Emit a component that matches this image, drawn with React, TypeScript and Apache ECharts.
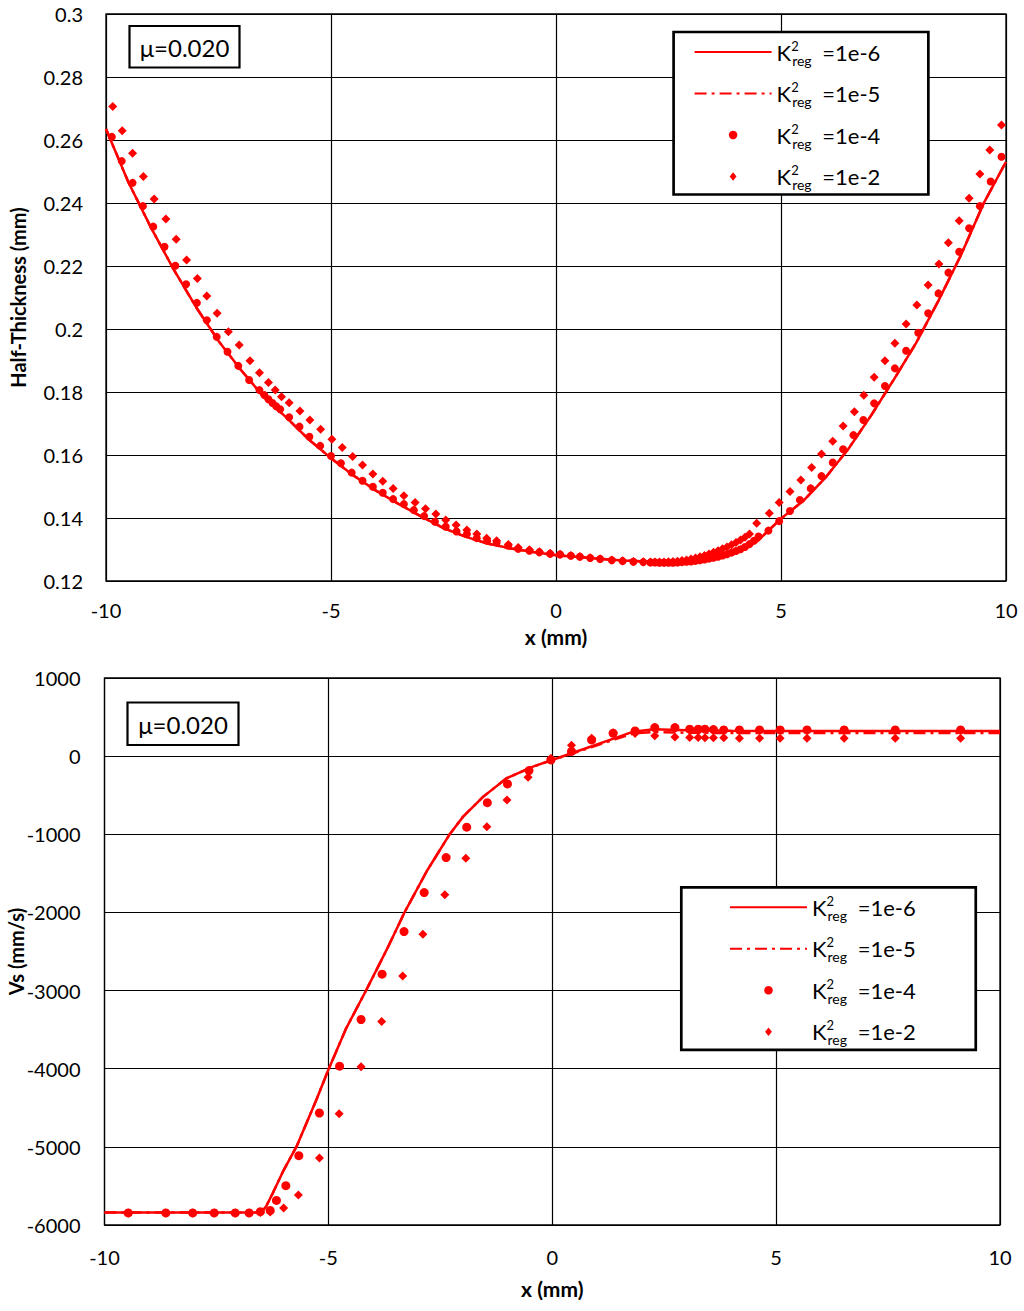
import React, { useEffect, useRef } from 'react';
import * as echarts from 'echarts';

// ---------- DATA ----------
const legendNames = ['1e-6', '1e-5', '1e-4', '1e-2'];
const muLabel = 'μ=0.020';

// Top chart: Half-Thickness (mm) vs x (mm)
const thkLine6: number[][] = [
  [-10, 0.2635], [-9.5, 0.2465], [-9, 0.2322], [-8.5, 0.219], [-8, 0.207], [-7.5, 0.1962],
  [-7, 0.187], [-6.5, 0.1785], [-6, 0.172], [-5.5, 0.165], [-5, 0.159], [-4.5, 0.1535],
  [-4, 0.1487], [-3.5, 0.1445], [-3, 0.1405], [-2.5, 0.1368], [-2, 0.134], [-1.5, 0.1318],
  [-1, 0.1303], [-0.5, 0.1292], [0, 0.1282], [0.5, 0.1276], [1, 0.127], [1.5, 0.1265],
  [2, 0.1262], [2.5, 0.126], [3, 0.1262], [3.5, 0.127], [4, 0.1288], [4.5, 0.133],
  [5, 0.1398], [5.5, 0.1455], [6, 0.153], [6.5, 0.162], [7, 0.1725], [7.5, 0.1838],
  [8, 0.1955], [8.5, 0.209], [9, 0.2235], [9.5, 0.2398], [10, 0.2531],
];
const thkLine5: number[][] = [
  [-10, 0.2635], [-9.5, 0.2465], [-9, 0.2322], [-8.5, 0.219], [-8, 0.207], [-7.5, 0.1962],
  [-7, 0.187], [-6.5, 0.1785], [-6, 0.172], [-5.5, 0.165], [-5, 0.159], [-4.5, 0.1535],
  [-4, 0.1487], [-3.5, 0.1445], [-3, 0.1405], [-2.5, 0.1368], [-2, 0.134], [-1.5, 0.1318],
  [-1, 0.1303], [-0.5, 0.1292], [0, 0.1282], [0.5, 0.1276], [1, 0.127], [1.5, 0.1265],
  [2, 0.1262], [2.5, 0.126], [3, 0.1262], [3.5, 0.127], [4, 0.1288], [4.5, 0.133],
  [5, 0.1398], [5.5, 0.1455], [6, 0.153], [6.5, 0.162], [7, 0.1725], [7.5, 0.1838],
  [8, 0.1955], [8.5, 0.209], [9, 0.2235], [9.5, 0.2398], [10, 0.2531],
];
const thkDots4: number[][] = [
  [-9.87, 0.261], [-9.65, 0.2533], [-9.41, 0.2464], [-9.18, 0.239], [-8.95, 0.2325], [-8.7, 0.2261],
  [-8.46, 0.2201], [-8.22, 0.2142], [-7.98, 0.2083], [-7.76, 0.2028], [-7.54, 0.1975], [-7.3, 0.1928],
  [-7.06, 0.1883], [-6.82, 0.1838], [-6.59, 0.1806], [-6.48, 0.179], [-6.39, 0.1777], [-6.3, 0.1765],
  [-6.22, 0.1755], [-6.13, 0.1745], [-5.93, 0.172], [-5.7, 0.169], [-5.48, 0.1658], [-5.24, 0.1629],
  [-5.0, 0.1597], [-4.78, 0.1574], [-4.54, 0.1544], [-4.3, 0.1518], [-4.07, 0.1499], [-3.85, 0.148],
  [-3.62, 0.146], [-3.38, 0.1444], [-3.16, 0.1425], [-2.93, 0.1406], [-2.69, 0.1388], [-2.45, 0.1372],
  [-2.21, 0.1357], [-1.98, 0.1349], [-1.76, 0.1336], [-1.53, 0.1328], [-1.32, 0.1322], [-1.06, 0.1312],
  [-0.84, 0.1302], [-0.59, 0.1296], [-0.37, 0.1291], [-0.13, 0.1286], [0.09, 0.1284], [0.33, 0.128],
  [0.53, 0.1277], [0.76, 0.1273], [0.98, 0.127], [1.24, 0.1266], [1.48, 0.1263], [1.72, 0.1261],
  [1.94, 0.126], [2.1, 0.1259], [2.2, 0.1259], [2.3, 0.1258], [2.4, 0.1258], [2.5, 0.1258],
  [2.6, 0.1258], [2.7, 0.1259], [2.8, 0.126], [2.9, 0.1261], [3.0, 0.1262], [3.1, 0.1264],
  [3.2, 0.1266], [3.3, 0.1268], [3.4, 0.1271], [3.5, 0.1274], [3.6, 0.1277], [3.7, 0.1281],
  [3.8, 0.1285], [3.9, 0.129], [4.0, 0.1295], [4.1, 0.1301], [4.2, 0.1308], [4.3, 0.1317],
  [4.4, 0.1328], [4.5, 0.1341], [4.72, 0.136], [4.96, 0.139], [5.2, 0.1422], [5.42, 0.1457],
  [5.66, 0.1494], [5.9, 0.1533], [6.15, 0.1576], [6.38, 0.1618], [6.61, 0.1663], [6.83, 0.1711],
  [7.07, 0.1764], [7.31, 0.1819], [7.53, 0.1875], [7.78, 0.1931], [8.05, 0.1988], [8.27, 0.205],
  [8.5, 0.2113], [8.72, 0.2179], [8.96, 0.2245], [9.18, 0.232], [9.42, 0.239], [9.66, 0.2468],
  [9.9, 0.2547],
];
const thkDiam2: number[][] = [
  [-9.85, 0.2706], [-9.64, 0.2629], [-9.41, 0.2558], [-9.17, 0.2484], [-8.93, 0.2413], [-8.67, 0.2349],
  [-8.44, 0.2285], [-8.21, 0.2219], [-7.97, 0.216], [-7.76, 0.2105], [-7.53, 0.205], [-7.28, 0.1991],
  [-7.04, 0.1949], [-6.8, 0.1899], [-6.59, 0.1861], [-6.39, 0.183], [-6.24, 0.1806], [-6.1, 0.1785],
  [-5.93, 0.1766], [-5.69, 0.174], [-5.47, 0.1711], [-5.23, 0.1682], [-4.98, 0.165], [-4.75, 0.1624],
  [-4.52, 0.1595], [-4.3, 0.1568], [-4.07, 0.154], [-3.85, 0.1517], [-3.62, 0.1494], [-3.38, 0.1471],
  [-3.13, 0.1449], [-2.9, 0.1429], [-2.67, 0.1413], [-2.45, 0.1394], [-2.22, 0.1378], [-1.98, 0.1362],
  [-1.76, 0.1349], [-1.54, 0.1336], [-1.32, 0.1328], [-1.06, 0.1316], [-0.84, 0.1306], [-0.59, 0.1299],
  [-0.37, 0.1293], [-0.13, 0.1288], [0.09, 0.1285], [0.33, 0.1281], [0.53, 0.1278], [0.76, 0.1274],
  [0.98, 0.1271], [1.24, 0.1267], [1.48, 0.1264], [1.72, 0.1262], [1.94, 0.1261], [2.1, 0.126],
  [2.2, 0.126], [2.3, 0.126], [2.4, 0.126], [2.5, 0.1261], [2.6, 0.1262], [2.7, 0.1263],
  [2.8, 0.1265], [2.9, 0.1267], [3.0, 0.127], [3.1, 0.1273], [3.2, 0.1277], [3.3, 0.1281],
  [3.4, 0.1286], [3.5, 0.1291], [3.6, 0.1296], [3.7, 0.1302], [3.8, 0.1308], [3.9, 0.1315],
  [4.0, 0.1322], [4.1, 0.133], [4.2, 0.1339], [4.3, 0.1349], [4.46, 0.1383], [4.74, 0.1415],
  [4.96, 0.1449], [5.2, 0.1484], [5.44, 0.1521], [5.68, 0.156], [5.9, 0.1603], [6.15, 0.1644],
  [6.38, 0.1692], [6.63, 0.1737], [6.84, 0.179], [7.07, 0.1847], [7.31, 0.1899], [7.53, 0.1955],
  [7.78, 0.2016], [8.02, 0.2076], [8.27, 0.214], [8.51, 0.2206], [8.72, 0.2274], [8.96, 0.2344],
  [9.18, 0.2415], [9.42, 0.2492], [9.64, 0.2568], [9.9, 0.2648],
];

// Bottom chart: Vs (mm/s) vs x (mm)
const vsLine6: number[][] = [
  [-10, -5840], [-9, -5840], [-8, -5840], [-7, -5840], [-6.5, -5840], [-6.39, -5762],
  [-6.24, -5590], [-6.0, -5300], [-5.71, -4994], [-5.27, -4400], [-5.0, -4013], [-4.6, -3480],
  [-4.15, -2990], [-3.7, -2480], [-3.29, -1989], [-2.8, -1470], [-2.29, -999], [-1.99, -774],
  [-1.54, -518], [-1.02, -283], [-0.43, -134], [0, -49], [0.43, 37], [0.9, 130],
  [1.4, 230], [1.81, 313], [2.26, 344], [3, 330], [4, 325], [5, 322], [7, 322], [10, 322],
];
const vsLine5: number[][] = [
  [-10, -5840], [-9, -5840], [-8, -5840], [-7, -5840], [-6.5, -5840], [-6.39, -5762],
  [-6.24, -5590], [-6.0, -5300], [-5.71, -4994], [-5.27, -4400], [-5.0, -4013], [-4.6, -3480],
  [-4.15, -2990], [-3.7, -2480], [-3.29, -1989], [-2.8, -1470], [-2.29, -999], [-1.99, -774],
  [-1.54, -518], [-1.02, -283], [-0.43, -134], [0, -49], [0.43, 30], [0.9, 120],
  [1.4, 215], [1.81, 290], [2.26, 310], [3, 300], [4, 296], [5, 295], [7, 295], [10, 295],
];
const vsDots4: number[][] = [
  [-9.47, -5846], [-8.63, -5846], [-8.03, -5846], [-7.55, -5846], [-7.08, -5846], [-6.77, -5846],
  [-6.52, -5830], [-6.3, -5813], [-6.16, -5685], [-5.95, -5497], [-5.66, -5113], [-5.2, -4567],
  [-4.75, -3967], [-4.27, -3370], [-3.8, -2790], [-3.31, -2245], [-2.86, -1746], [-2.37, -1298],
  [-1.91, -909], [-1.45, -595], [-1.0, -356], [-0.52, -185], [-0.03, -49], [0.43, 60],
  [0.88, 207], [1.36, 293], [1.85, 322], [2.29, 365], [2.74, 365], [3.07, 345],
  [3.26, 345], [3.41, 345], [3.6, 340], [3.83, 335], [4.18, 335], [4.63, 335],
  [5.09, 335], [5.69, 335], [6.52, 335], [7.66, 335], [9.12, 335],
];
const vsDiam2: number[][] = [
  [-9.47, -5846], [-8.63, -5846], [-8.03, -5846], [-7.55, -5846], [-7.08, -5846], [-6.77, -5846],
  [-6.52, -5840], [-6.3, -5835], [-6.0, -5783], [-5.67, -5615], [-5.2, -5143], [-4.76, -4576],
  [-4.27, -3975], [-3.81, -3396], [-3.34, -2815], [-2.89, -2278], [-2.4, -1775], [-1.93, -1306],
  [-1.46, -902], [-1.01, -560], [-0.54, -270], [-0.03, -27], [0.43, 140], [0.88, 229],
  [1.36, 300], [1.85, 290], [2.29, 260], [2.74, 245], [3.07, 240], [3.26, 240],
  [3.41, 235], [3.6, 235], [3.83, 235], [4.18, 230], [4.63, 230], [5.09, 230],
  [5.69, 230], [6.52, 230], [7.66, 230], [9.12, 230],
];

// ---------- STYLE ----------
const RED = '#ff0000';
const FONT = 'Lato';
const DIAMOND_ICON = 'path://M4,0L8,5L4,10L0,5Z';

function lineSeries(name: string, data: number[][], idx: number, dashed: boolean) {
  return {
    type: 'line', name, data, xAxisIndex: idx, yAxisIndex: idx,
    symbol: 'none', showSymbol: false, silent: true, z: 2,
    lineStyle: { color: RED, width: 2.5, type: dashed ? [12, 5, 3, 5] : 'solid' },
    itemStyle: { color: RED },
  };
}
function scatterSeries(name: string, data: number[][], idx: number, symbol: string, size: number) {
  return {
    type: 'scatter', name, data, xAxisIndex: idx, yAxisIndex: idx,
    symbol, symbolSize: size, z: 3, silent: true,
    itemStyle: { color: RED, opacity: 1 },
  };
}

const legendRich = {
  k: { fontSize: 22, lineHeight: 30, verticalAlign: 'middle', fontFamily: FONT, color: '#000' },
  s: { fontSize: 13, lineHeight: 13, width: 1, verticalAlign: 'top', padding: [2, 0, 0, 0], fontFamily: FONT, color: '#000' },
  r: { fontSize: 14, lineHeight: 14, verticalAlign: 'bottom', fontFamily: FONT, color: '#000' },
  t: { fontSize: 22, lineHeight: 30, verticalAlign: 'middle', padding: [0, 0, 0, 5], fontFamily: FONT, color: '#000' },
};

const legendData = [
  { name: legendNames[0], itemStyle: { opacity: 0 } },
  { name: legendNames[1], itemStyle: { opacity: 0 } },
  { name: legendNames[2], icon: 'circle' },
  { name: legendNames[3], icon: DIAMOND_ICON },
];

function makeLegend(left: number, top: number, padding: number[]) {
  return {
    data: legendData, orient: 'vertical', left, top, padding,
    itemWidth: 77, itemHeight: 8.5, itemGap: 11.5, align: 'left',
    borderColor: '#000', borderWidth: 2.7, backgroundColor: '#fff',
    symbolKeepAspect: true, selectedMode: false,
    formatter: (n: string) => `{k|K}{s|2}{r|reg}{t| =${n}}`,
    textStyle: { fontSize: 22, lineHeight: 30, fontFamily: FONT, color: '#000', rich: legendRich },
  };
}

function xAxisOpt(idx: number, margin: number, nameGap: number) {
  return {
    type: 'value', gridIndex: idx, min: -10, max: 10, interval: 5,
    name: 'x (mm)', nameLocation: 'middle', nameGap,
    nameTextStyle: { fontSize: 21, lineHeight: 20, fontWeight: 'bold', color: '#000', fontFamily: FONT },
    axisLine: { show: false, onZero: false }, axisTick: { show: false },
    axisLabel: { fontSize: 20, lineHeight: 18, color: '#000', margin, fontFamily: FONT, formatter: (v: number) => String(v) },
    splitLine: { show: true, lineStyle: { color: '#000', width: 1.2 } },
  };
}

export default function App() {
  const ref = useRef<HTMLDivElement>(null);
  useEffect(() => {
    if (!ref.current) return;
    const chart = echarts.init(ref.current, undefined, { renderer: 'svg' });
    chart.setOption({
      animation: false,
      backgroundColor: '#fff',
      textStyle: { fontFamily: FONT },
      grid: [
        { left: 106, top: 14, width: 900, height: 567, show: true, borderColor: '#000', borderWidth: 1.3, backgroundColor: 'transparent', containLabel: false, outerBoundsMode: 'none' },
        { left: 104.5, top: 678, width: 895.5, height: 547, show: true, borderColor: '#000', borderWidth: 1.3, backgroundColor: 'transparent', containLabel: false, outerBoundsMode: 'none' },
      ],
      xAxis: [xAxisOpt(0, 20, 45), xAxisOpt(1, 23, 53)],
      yAxis: [
        {
          type: 'value', gridIndex: 0, min: 0.12, max: 0.3, interval: 0.02,
          name: 'Half-Thickness (mm)', nameLocation: 'middle', nameGap: 78, nameRotate: 90, nameMoveOverlap: false,
          nameTextStyle: { fontSize: 20, fontWeight: 'bold', color: '#000', fontFamily: FONT },
          axisLine: { show: false, onZero: false }, axisTick: { show: false },
          axisLabel: { fontSize: 20, color: '#000', margin: 23, fontFamily: FONT, formatter: (v: number) => String(Number(v.toFixed(2))) },
          splitLine: { show: true, lineStyle: { color: '#000', width: 1.2 } },
        },
        {
          type: 'value', gridIndex: 1, min: -6000, max: 1000, interval: 1000,
          name: 'Vs (mm/s)', nameLocation: 'middle', nameGap: 79, nameRotate: 90, nameMoveOverlap: false,
          nameTextStyle: { fontSize: 20, fontWeight: 'bold', color: '#000', fontFamily: FONT },
          axisLine: { show: false, onZero: false }, axisTick: { show: false },
          axisLabel: { fontSize: 20, color: '#000', margin: 24, fontFamily: FONT, formatter: (v: number) => String(Math.round(v)) },
          splitLine: { show: true, lineStyle: { color: '#000', width: 1.2 } },
        },
      ],
      legend: [
        makeLegend(673.6, 32, [5, 48, 3, 20]),
        makeLegend(681.3, 887.3, [5, 60, 3, 47.7]),
      ],
      graphic: [
        { type: 'rect', shape: { x: 129.5, y: 26, width: 110, height: 41.5 }, style: { fill: '#fff', stroke: '#000', lineWidth: 2.2 }, z: 10 },
        { type: 'text', x: 184.5, y: 47, style: { text: muLabel, font: `24px ${FONT}`, fill: '#000', align: 'center', verticalAlign: 'middle' }, z: 11 },
        { type: 'rect', shape: { x: 127.5, y: 702.5, width: 111, height: 42.5 }, style: { fill: '#fff', stroke: '#000', lineWidth: 2.2 }, z: 10 },
        { type: 'text', x: 183, y: 724, style: { text: muLabel, font: `24px ${FONT}`, fill: '#000', align: 'center', verticalAlign: 'middle' }, z: 11 },
      ],
      series: [
        lineSeries('1e-6', thkLine6, 0, false),
        lineSeries('1e-5', thkLine5, 0, true),
        scatterSeries('1e-4', thkDots4, 0, 'circle', 8),
        scatterSeries('1e-2', thkDiam2, 0, 'diamond', 9),
        lineSeries('1e-6', vsLine6, 1, false),
        lineSeries('1e-5', vsLine5, 1, true),
        scatterSeries('1e-4', vsDots4, 1, 'circle', 9),
        scatterSeries('1e-2', vsDiam2, 1, 'diamond', 9),
      ],
    });
    return () => chart.dispose();
  }, []);
  return <div ref={ref} style={{ position: 'absolute', left: 0, top: 0, width: 1024, height: 1311 }} />;
}
